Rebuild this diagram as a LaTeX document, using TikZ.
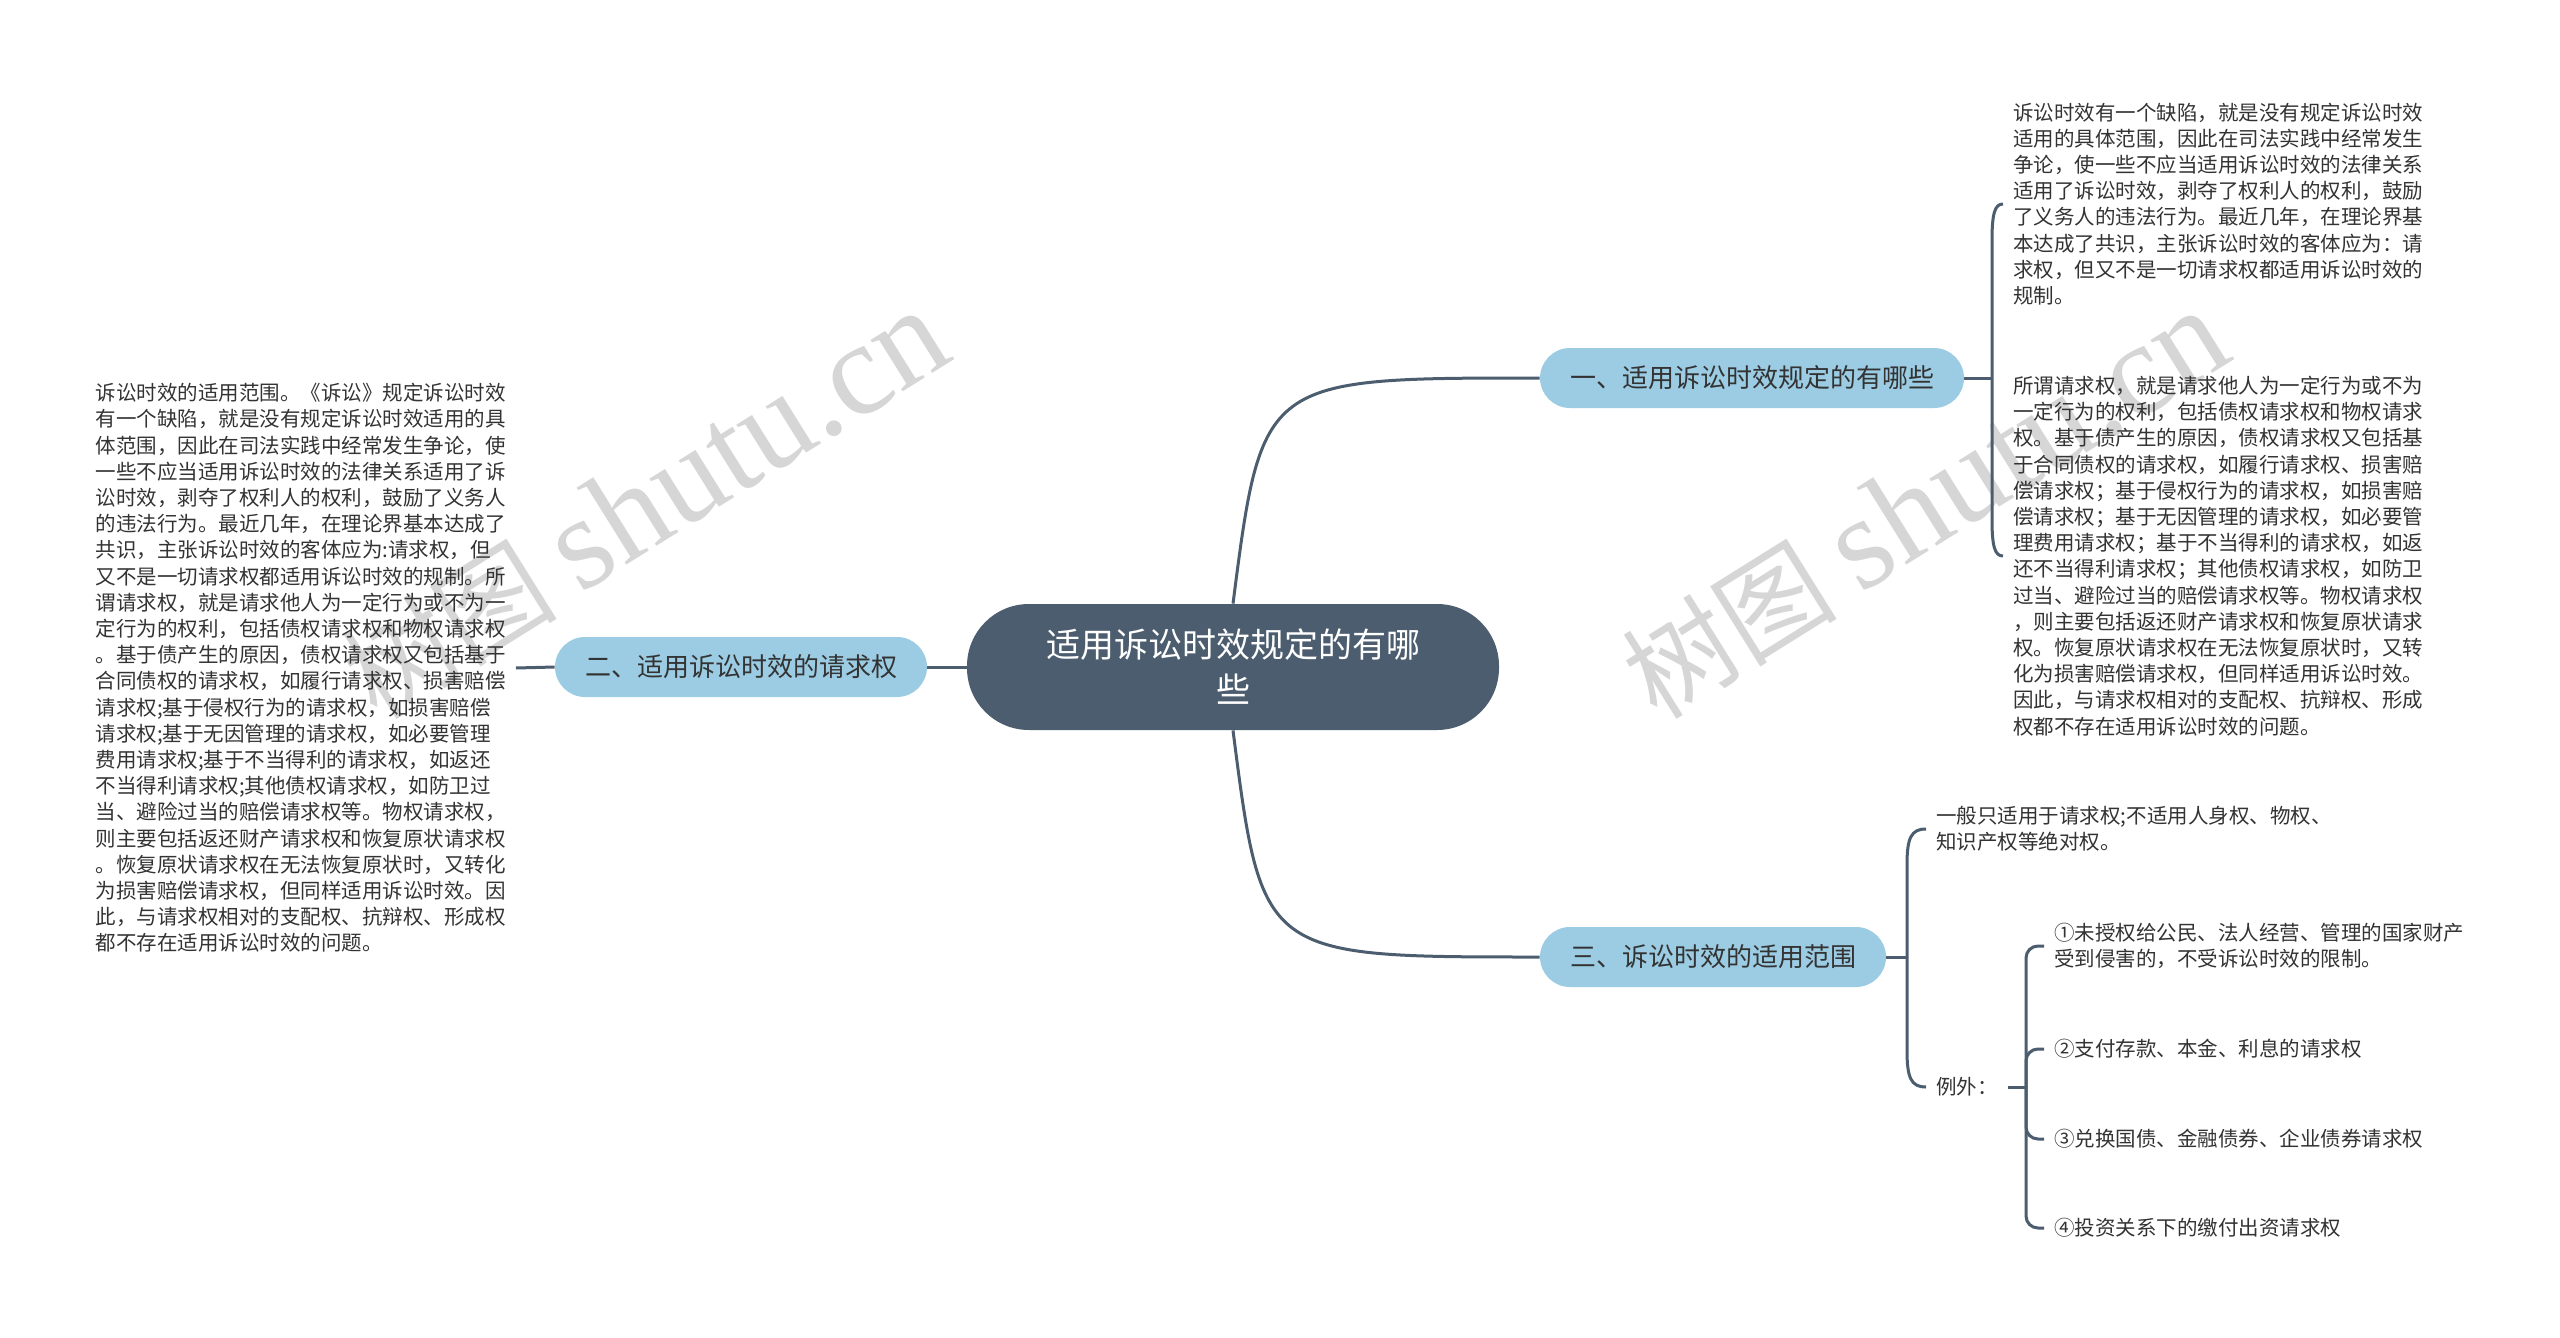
\documentclass[tikz,border=0pt]{standalone}
\usepackage{fontspec}
\setmainfont{Noto Sans CJK SC}
\newfontfamily\wmfont{Liberation Serif}
\usepackage{xcolor}
\usetikzlibrary{positioning}

\definecolor{rootfill}{HTML}{4B5D6E}
\definecolor{branchfill}{HTML}{9BCCE3}
\definecolor{linkcol}{HTML}{4B5D6E}
\definecolor{leaftext}{HTML}{333333}
\definecolor{wmgray}{HTML}{D6D6D6}

\begin{document}
\begin{tikzpicture}[
    x=0.5pt, y=-0.5pt,
    root/.style={rectangle, fill=rootfill, rounded corners=31pt, minimum width=266pt, minimum height=63pt, text width=200pt, align=center, text=white, font=\fontsize{17pt}{22.5pt}\selectfont},
    branch/.style={rectangle, fill=branchfill, rounded corners=15pt, minimum height=30pt, inner xsep=15pt, text=leaftext, font=\fontsize{13pt}{16pt}\selectfont},
    leaf/.style={inner xsep=5pt, inner ysep=0pt, align=left, text=leaftext, font=\fontsize{10.25pt}{13.1pt}\selectfont},
    link/.style={draw=linkcol, line width=1.5pt},
    wmark/.style={text=wmgray, rotate=32, font=\fontsize{54pt}{54pt}\selectfont}
]
    \useasboundingbox (0,0) rectangle (2560,1338);
    \fill[white] (0,0) rectangle (2560,1338);

    % watermarks
    \node[wmark] (wmleft) at (645,505) {树图 {\wmfont\fontsize{66pt}{66pt}\selectfont shutu.cn}};
    \node[wmark] (wmright) at (1925,505) {树图 {\wmfont\fontsize{66pt}{66pt}\selectfont shutu.cn}};

    % topic and branches
    \node[root] (topic) at (1233,667) {适用诉讼时效规定的有哪\\些};
    \node[branch] (rule) at (1752,378) {一、适用诉讼时效规定的有哪些};
    \node[branch] (claim) at (741,667) {二、适用诉讼时效的请求权};
    \node[branch] (scope) at (1713,957) {三、诉讼时效的适用范围};

    % leaves
    \node[leaf, anchor=east] (claimtxt) at (516,668) {诉讼时效的适用范围。《诉讼》规定诉讼时效\\
有一个缺陷，就是没有规定诉讼时效适用的具\\
体范围，因此在司法实践中经常发生争论，使\\
一些不应当适用诉讼时效的法律关系适用了诉\\
讼时效，剥夺了权利人的权利，鼓励了义务人\\
的违法行为。最近几年，在理论界基本达成了\\
共识，主张诉讼时效的客体应为:请求权，但\\
又不是一切请求权都适用诉讼时效的规制。所\\
谓请求权，就是请求他人为一定行为或不为一\\
定行为的权利，包括债权请求权和物权请求权\\
。基于债产生的原因，债权请求权又包括基于\\
合同债权的请求权，如履行请求权、损害赔偿\\
请求权;基于侵权行为的请求权，如损害赔偿\\
请求权;基于无因管理的请求权，如必要管理\\
费用请求权;基于不当得利的请求权，如返还\\
不当得利请求权;其他债权请求权，如防卫过\\
当、避险过当的赔偿请求权等。物权请求权，\\
则主要包括返还财产请求权和恢复原状请求权\\
。恢复原状请求权在无法恢复原状时，又转化\\
为损害赔偿请求权，但同样适用诉讼时效。因\\
此，与请求权相对的支配权、抗辩权、形成权\\
都不存在适用诉讼时效的问题。};

    \node[leaf, anchor=west] (ruletxt) at (2003,204) {诉讼时效有一个缺陷，就是没有规定诉讼时效\\
适用的具体范围，因此在司法实践中经常发生\\
争论，使一些不应当适用诉讼时效的法律关系\\
适用了诉讼时效，剥夺了权利人的权利，鼓励\\
了义务人的违法行为。最近几年，在理论界基\\
本达成了共识，主张诉讼时效的客体应为：请\\
求权，但又不是一切请求权都适用诉讼时效的\\
规制。};
    \node[leaf, anchor=west] (ruleclaim) at (2003,556) {所谓请求权，就是请求他人为一定行为或不为\\
一定行为的权利，包括债权请求权和物权请求\\
权。基于债产生的原因，债权请求权又包括基\\
于合同债权的请求权，如履行请求权、损害赔\\
偿请求权；基于侵权行为的请求权，如损害赔\\
偿请求权；基于无因管理的请求权，如必要管\\
理费用请求权；基于不当得利的请求权，如返\\
还不当得利请求权；其他债权请求权，如防卫\\
过当、避险过当的赔偿请求权等。物权请求权\\
，则主要包括返还财产请求权和恢复原状请求\\
权。恢复原状请求权在无法恢复原状时，又转\\
化为损害赔偿请求权，但同样适用诉讼时效。\\
因此，与请求权相对的支配权、抗辩权、形成\\
权都不存在适用诉讼时效的问题。};

    \node[leaf, anchor=west] (general) at (1926,829) {一般只适用于请求权;不适用人身权、物权、\\知识产权等绝对权。};
    \node[leaf, anchor=west] (excl) at (1926,1087) {例外：};
    \node[leaf, anchor=west] (ex1) at (2044,946) {①未授权给公民、法人经营、管理的国家财产\\受到侵害的，不受诉讼时效的限制。};
    \node[leaf, anchor=west] (ex2) at (2044,1049) {②支付存款、本金、利息的请求权};
    \node[leaf, anchor=west] (ex3) at (2044,1139) {③兑换国债、金融债券、企业债券请求权};
    \node[leaf, anchor=west] (ex4) at (2044,1228) {④投资关系下的缴付出资请求权};

    % connectors
    \draw[link] (topic.north) .. controls (1262,378) .. (rule.west);
    \draw[link] (topic.south) .. controls (1262,957) .. (scope.west);
    \draw[link] (claim.east) -- (topic.west);
    \draw[link] (claimtxt.east) -- (claim.west);

    \coordinate (rulej) at (1992,378);
    \draw[link] (rule.east) -- (rulej);
    \draw[link] (rulej) -- (1992,240) .. controls (1992,213) and (1995,204) .. (ruletxt.west);
    \draw[link] (rulej) -- (1992,520) .. controls (1992,547) and (1995,556) .. (ruleclaim.west);

    \coordinate (scopej) at (1907,957);
    \draw[link] (scope.east) -- (scopej);
    \draw[link] (scopej) -- (1907,865) .. controls (1907,838) and (1911,829) .. (general.west);
    \draw[link] (scopej) -- (1907,1050) .. controls (1907,1078) and (1911,1087) .. (excl.west);

    \coordinate (exj) at (2026,1087);
    \draw[link] (excl.east) -- (exj);
    \foreach \i in {1,...,4}
        \draw[link, rounded corners=6pt] (exj) |- (ex\i.west);
\end{tikzpicture}
\end{document}
